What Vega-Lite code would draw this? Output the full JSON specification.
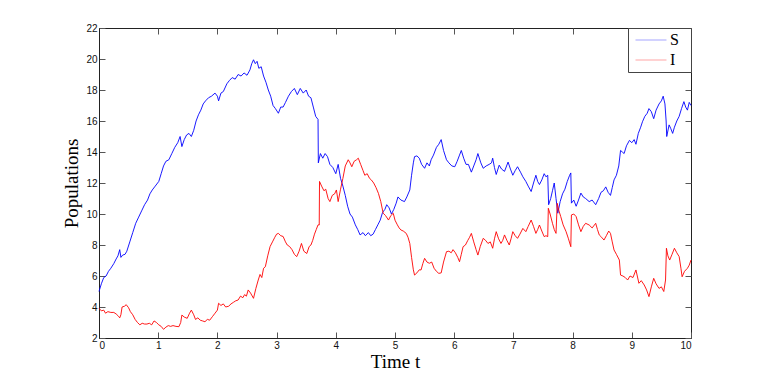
{
"$schema": "https://vega.github.io/schema/vega-lite/v6.json",
"width": 592, "height": 310,
"autosize": {"type": "none"},
"padding": {"left": 99, "top": 28, "right": 72, "bottom": 44},
"background": "white",
"config": {
  "view": {"stroke": "#222", "strokeWidth": 1},
  "axis": {"grid": false, "domainColor": "#222", "tickColor": "#555", "tickSize": -6, "labelPadding": 8, "labelFont": "Liberation Sans", "labelFontSize": 10, "labelColor": "#111", "titleFont": "Liberation Serif", "titleFontSize": 19, "titleFontWeight": "normal", "titleColor": "#000"}
},
"data": {"values": [
{"t":0.00,"v":5.0,"s":"S"},{"t":0.04,"v":5.5,"s":"S"},{"t":0.08,"v":5.9,"s":"S"},{"t":0.12,"v":6.0,"s":"S"},{"t":0.16,"v":6.3,"s":"S"},{"t":0.20,"v":6.5,"s":"S"},{"t":0.25,"v":6.8,"s":"S"},{"t":0.29,"v":7.1,"s":"S"},{"t":0.32,"v":7.3,"s":"S"},{"t":0.35,"v":7.7,"s":"S"},{"t":0.37,"v":7.2,"s":"S"},{"t":0.40,"v":7.35,"s":"S"},{"t":0.44,"v":7.4,"s":"S"},{"t":0.47,"v":7.6,"s":"S"},{"t":0.52,"v":8.2,"s":"S"},{"t":0.57,"v":8.8,"s":"S"},{"t":0.62,"v":9.4,"s":"S"},{"t":0.67,"v":9.8,"s":"S"},{"t":0.72,"v":10.2,"s":"S"},{"t":0.77,"v":10.6,"s":"S"},{"t":0.82,"v":10.9,"s":"S"},{"t":0.86,"v":11.3,"s":"S"},{"t":0.90,"v":11.55,"s":"S"},{"t":0.95,"v":11.8,"s":"S"},{"t":1.01,"v":12.1,"s":"S"},{"t":1.05,"v":12.6,"s":"S"},{"t":1.09,"v":13.1,"s":"S"},{"t":1.13,"v":13.4,"s":"S"},{"t":1.18,"v":13.5,"s":"S"},{"t":1.23,"v":13.9,"s":"S"},{"t":1.28,"v":14.3,"s":"S"},{"t":1.33,"v":14.6,"s":"S"},{"t":1.37,"v":15.0,"s":"S"},{"t":1.40,"v":14.35,"s":"S"},{"t":1.44,"v":14.8,"s":"S"},{"t":1.48,"v":15.1,"s":"S"},{"t":1.52,"v":15.2,"s":"S"},{"t":1.56,"v":15.0,"s":"S"},{"t":1.60,"v":15.4,"s":"S"},{"t":1.64,"v":16.0,"s":"S"},{"t":1.68,"v":16.4,"s":"S"},{"t":1.72,"v":16.7,"s":"S"},{"t":1.76,"v":17.1,"s":"S"},{"t":1.80,"v":17.3,"s":"S"},{"t":1.85,"v":17.5,"s":"S"},{"t":1.90,"v":17.6,"s":"S"},{"t":1.96,"v":17.8,"s":"S"},{"t":2.00,"v":17.6,"s":"S"},{"t":2.02,"v":17.3,"s":"S"},{"t":2.06,"v":17.8,"s":"S"},{"t":2.10,"v":17.9,"s":"S"},{"t":2.16,"v":18.4,"s":"S"},{"t":2.20,"v":18.6,"s":"S"},{"t":2.25,"v":18.8,"s":"S"},{"t":2.30,"v":18.7,"s":"S"},{"t":2.35,"v":19.0,"s":"S"},{"t":2.40,"v":18.9,"s":"S"},{"t":2.45,"v":19.1,"s":"S"},{"t":2.50,"v":18.95,"s":"S"},{"t":2.55,"v":19.3,"s":"S"},{"t":2.58,"v":19.7,"s":"S"},{"t":2.61,"v":19.95,"s":"S"},{"t":2.64,"v":19.7,"s":"S"},{"t":2.67,"v":19.85,"s":"S"},{"t":2.70,"v":19.4,"s":"S"},{"t":2.74,"v":19.5,"s":"S"},{"t":2.78,"v":18.9,"s":"S"},{"t":2.82,"v":18.5,"s":"S"},{"t":2.86,"v":18.0,"s":"S"},{"t":2.90,"v":17.6,"s":"S"},{"t":2.94,"v":17.0,"s":"S"},{"t":2.98,"v":16.8,"s":"S"},{"t":3.03,"v":16.5,"s":"S"},{"t":3.07,"v":16.9,"s":"S"},{"t":3.11,"v":16.9,"s":"S"},{"t":3.15,"v":17.2,"s":"S"},{"t":3.20,"v":17.6,"s":"S"},{"t":3.25,"v":17.9,"s":"S"},{"t":3.30,"v":18.1,"s":"S"},{"t":3.35,"v":17.7,"s":"S"},{"t":3.40,"v":18.1,"s":"S"},{"t":3.45,"v":17.8,"s":"S"},{"t":3.50,"v":18.0,"s":"S"},{"t":3.54,"v":17.6,"s":"S"},{"t":3.58,"v":17.5,"s":"S"},{"t":3.62,"v":16.9,"s":"S"},{"t":3.66,"v":16.3,"s":"S"},{"t":3.70,"v":16.1,"s":"S"},{"t":3.705,"v":13.3,"s":"S"},{"t":3.74,"v":13.9,"s":"S"},{"t":3.78,"v":13.6,"s":"S"},{"t":3.82,"v":13.9,"s":"S"},{"t":3.86,"v":13.7,"s":"S"},{"t":3.90,"v":13.2,"s":"S"},{"t":3.95,"v":13.0,"s":"S"},{"t":4.00,"v":12.6,"s":"S"},{"t":4.04,"v":13.2,"s":"S"},{"t":4.08,"v":12.3,"s":"S"},{"t":4.12,"v":11.8,"s":"S"},{"t":4.16,"v":11.2,"s":"S"},{"t":4.20,"v":10.5,"s":"S"},{"t":4.24,"v":10.0,"s":"S"},{"t":4.28,"v":9.8,"s":"S"},{"t":4.33,"v":9.3,"s":"S"},{"t":4.37,"v":9.0,"s":"S"},{"t":4.41,"v":8.65,"s":"S"},{"t":4.46,"v":8.8,"s":"S"},{"t":4.50,"v":8.6,"s":"S"},{"t":4.55,"v":8.8,"s":"S"},{"t":4.59,"v":8.6,"s":"S"},{"t":4.63,"v":8.7,"s":"S"},{"t":4.67,"v":9.0,"s":"S"},{"t":4.71,"v":9.3,"s":"S"},{"t":4.75,"v":9.6,"s":"S"},{"t":4.79,"v":10.1,"s":"S"},{"t":4.83,"v":10.3,"s":"S"},{"t":4.86,"v":10.6,"s":"S"},{"t":4.90,"v":10.4,"s":"S"},{"t":4.94,"v":10.0,"s":"S"},{"t":4.98,"v":10.3,"s":"S"},{"t":5.02,"v":10.7,"s":"S"},{"t":5.05,"v":11.1,"s":"S"},{"t":5.10,"v":10.9,"s":"S"},{"t":5.16,"v":10.8,"s":"S"},{"t":5.20,"v":11.1,"s":"S"},{"t":5.25,"v":11.55,"s":"S"},{"t":5.28,"v":12.5,"s":"S"},{"t":5.31,"v":13.3,"s":"S"},{"t":5.33,"v":13.7,"s":"S"},{"t":5.37,"v":13.75,"s":"S"},{"t":5.41,"v":13.6,"s":"S"},{"t":5.45,"v":13.2,"s":"S"},{"t":5.50,"v":12.95,"s":"S"},{"t":5.54,"v":13.3,"s":"S"},{"t":5.58,"v":13.1,"s":"S"},{"t":5.61,"v":13.5,"s":"S"},{"t":5.65,"v":13.8,"s":"S"},{"t":5.70,"v":14.3,"s":"S"},{"t":5.74,"v":14.5,"s":"S"},{"t":5.78,"v":14.8,"s":"S"},{"t":5.82,"v":14.1,"s":"S"},{"t":5.87,"v":13.5,"s":"S"},{"t":5.91,"v":13.3,"s":"S"},{"t":5.96,"v":13.1,"s":"S"},{"t":6.01,"v":13.05,"s":"S"},{"t":6.05,"v":13.4,"s":"S"},{"t":6.09,"v":13.8,"s":"S"},{"t":6.12,"v":14.1,"s":"S"},{"t":6.16,"v":13.6,"s":"S"},{"t":6.20,"v":13.2,"s":"S"},{"t":6.24,"v":13.2,"s":"S"},{"t":6.29,"v":12.7,"s":"S"},{"t":6.33,"v":13.1,"s":"S"},{"t":6.37,"v":13.5,"s":"S"},{"t":6.40,"v":13.9,"s":"S"},{"t":6.45,"v":13.3,"s":"S"},{"t":6.49,"v":12.95,"s":"S"},{"t":6.54,"v":13.1,"s":"S"},{"t":6.59,"v":13.2,"s":"S"},{"t":6.63,"v":13.3,"s":"S"},{"t":6.65,"v":13.6,"s":"S"},{"t":6.68,"v":13.0,"s":"S"},{"t":6.71,"v":12.55,"s":"S"},{"t":6.76,"v":13.15,"s":"S"},{"t":6.80,"v":12.9,"s":"S"},{"t":6.85,"v":12.75,"s":"S"},{"t":6.91,"v":13.35,"s":"S"},{"t":6.95,"v":12.9,"s":"S"},{"t":6.99,"v":12.5,"s":"S"},{"t":7.03,"v":12.8,"s":"S"},{"t":7.07,"v":13.05,"s":"S"},{"t":7.12,"v":12.7,"s":"S"},{"t":7.16,"v":12.4,"s":"S"},{"t":7.21,"v":12.1,"s":"S"},{"t":7.25,"v":11.8,"s":"S"},{"t":7.30,"v":11.45,"s":"S"},{"t":7.34,"v":12.0,"s":"S"},{"t":7.38,"v":12.5,"s":"S"},{"t":7.41,"v":12.1,"s":"S"},{"t":7.44,"v":11.9,"s":"S"},{"t":7.48,"v":12.2,"s":"S"},{"t":7.52,"v":12.6,"s":"S"},{"t":7.55,"v":12.4,"s":"S"},{"t":7.58,"v":12.5,"s":"S"},{"t":7.595,"v":10.6,"s":"S"},{"t":7.63,"v":11.0,"s":"S"},{"t":7.66,"v":11.5,"s":"S"},{"t":7.69,"v":12.0,"s":"S"},{"t":7.72,"v":11.0,"s":"S"},{"t":7.75,"v":10.05,"s":"S"},{"t":7.79,"v":10.8,"s":"S"},{"t":7.83,"v":11.3,"s":"S"},{"t":7.87,"v":11.6,"s":"S"},{"t":7.91,"v":12.1,"s":"S"},{"t":7.95,"v":12.5,"s":"S"},{"t":7.97,"v":12.65,"s":"S"},{"t":7.98,"v":10.7,"s":"S"},{"t":8.02,"v":10.9,"s":"S"},{"t":8.06,"v":10.5,"s":"S"},{"t":8.10,"v":10.9,"s":"S"},{"t":8.14,"v":11.35,"s":"S"},{"t":8.18,"v":11.1,"s":"S"},{"t":8.22,"v":11.0,"s":"S"},{"t":8.28,"v":10.8,"s":"S"},{"t":8.33,"v":10.9,"s":"S"},{"t":8.39,"v":10.6,"s":"S"},{"t":8.44,"v":11.0,"s":"S"},{"t":8.48,"v":11.4,"s":"S"},{"t":8.52,"v":11.5,"s":"S"},{"t":8.56,"v":11.75,"s":"S"},{"t":8.60,"v":11.4,"s":"S"},{"t":8.64,"v":11.2,"s":"S"},{"t":8.67,"v":11.7,"s":"S"},{"t":8.70,"v":12.2,"s":"S"},{"t":8.74,"v":12.5,"s":"S"},{"t":8.78,"v":13.1,"s":"S"},{"t":8.81,"v":14.1,"s":"S"},{"t":8.84,"v":14.0,"s":"S"},{"t":8.87,"v":13.9,"s":"S"},{"t":8.91,"v":14.4,"s":"S"},{"t":8.96,"v":14.75,"s":"S"},{"t":9.00,"v":14.6,"s":"S"},{"t":9.04,"v":14.8,"s":"S"},{"t":9.07,"v":14.5,"s":"S"},{"t":9.11,"v":15.2,"s":"S"},{"t":9.15,"v":15.6,"s":"S"},{"t":9.18,"v":15.95,"s":"S"},{"t":9.22,"v":16.3,"s":"S"},{"t":9.26,"v":16.5,"s":"S"},{"t":9.29,"v":16.8,"s":"S"},{"t":9.33,"v":16.6,"s":"S"},{"t":9.37,"v":16.15,"s":"S"},{"t":9.41,"v":16.7,"s":"S"},{"t":9.46,"v":17.1,"s":"S"},{"t":9.50,"v":17.3,"s":"S"},{"t":9.53,"v":17.6,"s":"S"},{"t":9.56,"v":17.1,"s":"S"},{"t":9.58,"v":16.0,"s":"S"},{"t":9.59,"v":15.0,"s":"S"},{"t":9.63,"v":15.75,"s":"S"},{"t":9.66,"v":15.5,"s":"S"},{"t":9.69,"v":15.2,"s":"S"},{"t":9.72,"v":15.6,"s":"S"},{"t":9.76,"v":16.0,"s":"S"},{"t":9.80,"v":16.3,"s":"S"},{"t":9.84,"v":16.8,"s":"S"},{"t":9.88,"v":17.25,"s":"S"},{"t":9.91,"v":16.9,"s":"S"},{"t":9.94,"v":16.7,"s":"S"},{"t":9.97,"v":17.2,"s":"S"},{"t":10.00,"v":17.0,"s":"S"},
{"t":0.00,"v":3.92,"s":"I"},{"t":0.04,"v":3.75,"s":"I"},{"t":0.08,"v":3.8,"s":"I"},{"t":0.11,"v":3.6,"s":"I"},{"t":0.15,"v":3.7,"s":"I"},{"t":0.20,"v":3.65,"s":"I"},{"t":0.25,"v":3.65,"s":"I"},{"t":0.29,"v":3.55,"s":"I"},{"t":0.33,"v":3.4,"s":"I"},{"t":0.35,"v":3.3,"s":"I"},{"t":0.37,"v":3.5,"s":"I"},{"t":0.39,"v":4.0,"s":"I"},{"t":0.43,"v":4.05,"s":"I"},{"t":0.46,"v":4.15,"s":"I"},{"t":0.50,"v":3.95,"s":"I"},{"t":0.53,"v":3.7,"s":"I"},{"t":0.57,"v":3.5,"s":"I"},{"t":0.61,"v":3.2,"s":"I"},{"t":0.65,"v":3.0,"s":"I"},{"t":0.69,"v":2.85,"s":"I"},{"t":0.73,"v":2.95,"s":"I"},{"t":0.77,"v":2.9,"s":"I"},{"t":0.81,"v":2.9,"s":"I"},{"t":0.85,"v":2.95,"s":"I"},{"t":0.89,"v":2.85,"s":"I"},{"t":0.93,"v":3.1,"s":"I"},{"t":0.97,"v":3.0,"s":"I"},{"t":1.01,"v":2.85,"s":"I"},{"t":1.05,"v":2.75,"s":"I"},{"t":1.09,"v":2.56,"s":"I"},{"t":1.13,"v":2.7,"s":"I"},{"t":1.17,"v":2.8,"s":"I"},{"t":1.21,"v":2.75,"s":"I"},{"t":1.25,"v":2.8,"s":"I"},{"t":1.30,"v":2.75,"s":"I"},{"t":1.35,"v":2.73,"s":"I"},{"t":1.38,"v":3.0,"s":"I"},{"t":1.40,"v":3.48,"s":"I"},{"t":1.44,"v":3.35,"s":"I"},{"t":1.49,"v":3.27,"s":"I"},{"t":1.53,"v":3.6,"s":"I"},{"t":1.56,"v":3.8,"s":"I"},{"t":1.60,"v":3.5,"s":"I"},{"t":1.63,"v":3.2,"s":"I"},{"t":1.67,"v":3.3,"s":"I"},{"t":1.71,"v":3.15,"s":"I"},{"t":1.75,"v":3.1,"s":"I"},{"t":1.79,"v":3.05,"s":"I"},{"t":1.83,"v":3.2,"s":"I"},{"t":1.87,"v":3.15,"s":"I"},{"t":1.92,"v":3.4,"s":"I"},{"t":1.96,"v":3.6,"s":"I"},{"t":2.00,"v":3.8,"s":"I"},{"t":2.02,"v":4.24,"s":"I"},{"t":2.06,"v":4.1,"s":"I"},{"t":2.10,"v":4.2,"s":"I"},{"t":2.14,"v":4.0,"s":"I"},{"t":2.19,"v":4.05,"s":"I"},{"t":2.23,"v":4.2,"s":"I"},{"t":2.27,"v":4.3,"s":"I"},{"t":2.31,"v":4.4,"s":"I"},{"t":2.35,"v":4.45,"s":"I"},{"t":2.39,"v":4.7,"s":"I"},{"t":2.43,"v":4.6,"s":"I"},{"t":2.46,"v":4.8,"s":"I"},{"t":2.49,"v":4.7,"s":"I"},{"t":2.52,"v":5.1,"s":"I"},{"t":2.56,"v":4.9,"s":"I"},{"t":2.61,"v":4.56,"s":"I"},{"t":2.65,"v":5.2,"s":"I"},{"t":2.69,"v":5.74,"s":"I"},{"t":2.72,"v":6.1,"s":"I"},{"t":2.75,"v":5.9,"s":"I"},{"t":2.78,"v":6.5,"s":"I"},{"t":2.81,"v":6.6,"s":"I"},{"t":2.85,"v":7.3,"s":"I"},{"t":2.89,"v":7.9,"s":"I"},{"t":2.93,"v":8.2,"s":"I"},{"t":2.97,"v":8.5,"s":"I"},{"t":3.00,"v":8.7,"s":"I"},{"t":3.03,"v":8.75,"s":"I"},{"t":3.07,"v":8.6,"s":"I"},{"t":3.11,"v":8.55,"s":"I"},{"t":3.15,"v":8.2,"s":"I"},{"t":3.18,"v":8.0,"s":"I"},{"t":3.22,"v":7.9,"s":"I"},{"t":3.26,"v":7.7,"s":"I"},{"t":3.30,"v":7.4,"s":"I"},{"t":3.34,"v":7.25,"s":"I"},{"t":3.38,"v":7.6,"s":"I"},{"t":3.42,"v":8.1,"s":"I"},{"t":3.46,"v":7.6,"s":"I"},{"t":3.51,"v":7.45,"s":"I"},{"t":3.55,"v":7.9,"s":"I"},{"t":3.58,"v":8.0,"s":"I"},{"t":3.61,"v":8.3,"s":"I"},{"t":3.64,"v":8.7,"s":"I"},{"t":3.67,"v":9.0,"s":"I"},{"t":3.70,"v":9.3,"s":"I"},{"t":3.72,"v":9.29,"s":"I"},{"t":3.725,"v":12.1,"s":"I"},{"t":3.76,"v":11.8,"s":"I"},{"t":3.80,"v":11.5,"s":"I"},{"t":3.83,"v":11.6,"s":"I"},{"t":3.87,"v":11.0,"s":"I"},{"t":3.90,"v":10.8,"s":"I"},{"t":3.94,"v":11.2,"s":"I"},{"t":3.98,"v":11.3,"s":"I"},{"t":4.01,"v":11.55,"s":"I"},{"t":4.04,"v":10.8,"s":"I"},{"t":4.08,"v":11.6,"s":"I"},{"t":4.12,"v":12.3,"s":"I"},{"t":4.16,"v":13.1,"s":"I"},{"t":4.21,"v":13.5,"s":"I"},{"t":4.24,"v":13.3,"s":"I"},{"t":4.27,"v":13.05,"s":"I"},{"t":4.31,"v":13.4,"s":"I"},{"t":4.35,"v":13.5,"s":"I"},{"t":4.38,"v":13.6,"s":"I"},{"t":4.42,"v":13.2,"s":"I"},{"t":4.46,"v":12.8,"s":"I"},{"t":4.49,"v":12.5,"s":"I"},{"t":4.53,"v":12.6,"s":"I"},{"t":4.57,"v":12.3,"s":"I"},{"t":4.60,"v":12.2,"s":"I"},{"t":4.64,"v":12.0,"s":"I"},{"t":4.68,"v":11.7,"s":"I"},{"t":4.72,"v":11.33,"s":"I"},{"t":4.76,"v":10.8,"s":"I"},{"t":4.80,"v":10.05,"s":"I"},{"t":4.84,"v":9.9,"s":"I"},{"t":4.89,"v":9.61,"s":"I"},{"t":4.93,"v":9.9,"s":"I"},{"t":4.97,"v":10.05,"s":"I"},{"t":5.00,"v":9.6,"s":"I"},{"t":5.04,"v":9.3,"s":"I"},{"t":5.07,"v":9.1,"s":"I"},{"t":5.10,"v":8.97,"s":"I"},{"t":5.14,"v":8.9,"s":"I"},{"t":5.19,"v":8.75,"s":"I"},{"t":5.22,"v":8.5,"s":"I"},{"t":5.25,"v":8.1,"s":"I"},{"t":5.28,"v":7.2,"s":"I"},{"t":5.31,"v":6.4,"s":"I"},{"t":5.33,"v":6.06,"s":"I"},{"t":5.37,"v":6.2,"s":"I"},{"t":5.41,"v":6.4,"s":"I"},{"t":5.44,"v":6.39,"s":"I"},{"t":5.47,"v":6.8,"s":"I"},{"t":5.50,"v":7.14,"s":"I"},{"t":5.54,"v":6.9,"s":"I"},{"t":5.58,"v":6.82,"s":"I"},{"t":5.62,"v":6.9,"s":"I"},{"t":5.66,"v":6.5,"s":"I"},{"t":5.70,"v":6.3,"s":"I"},{"t":5.74,"v":6.17,"s":"I"},{"t":5.78,"v":6.2,"s":"I"},{"t":5.82,"v":6.9,"s":"I"},{"t":5.87,"v":7.57,"s":"I"},{"t":5.91,"v":7.6,"s":"I"},{"t":5.95,"v":7.5,"s":"I"},{"t":5.98,"v":7.7,"s":"I"},{"t":6.02,"v":7.5,"s":"I"},{"t":6.06,"v":7.2,"s":"I"},{"t":6.09,"v":6.92,"s":"I"},{"t":6.12,"v":7.4,"s":"I"},{"t":6.15,"v":7.89,"s":"I"},{"t":6.19,"v":8.0,"s":"I"},{"t":6.23,"v":8.3,"s":"I"},{"t":6.26,"v":8.5,"s":"I"},{"t":6.29,"v":8.75,"s":"I"},{"t":6.33,"v":8.2,"s":"I"},{"t":6.37,"v":7.7,"s":"I"},{"t":6.40,"v":7.35,"s":"I"},{"t":6.44,"v":7.9,"s":"I"},{"t":6.49,"v":8.43,"s":"I"},{"t":6.53,"v":8.3,"s":"I"},{"t":6.57,"v":8.1,"s":"I"},{"t":6.61,"v":8.2,"s":"I"},{"t":6.65,"v":7.79,"s":"I"},{"t":6.68,"v":8.4,"s":"I"},{"t":6.71,"v":8.86,"s":"I"},{"t":6.75,"v":8.4,"s":"I"},{"t":6.79,"v":8.1,"s":"I"},{"t":6.82,"v":8.3,"s":"I"},{"t":6.85,"v":8.65,"s":"I"},{"t":6.89,"v":8.3,"s":"I"},{"t":6.93,"v":8.0,"s":"I"},{"t":6.96,"v":8.4,"s":"I"},{"t":6.99,"v":8.86,"s":"I"},{"t":7.03,"v":8.6,"s":"I"},{"t":7.07,"v":8.43,"s":"I"},{"t":7.11,"v":8.7,"s":"I"},{"t":7.16,"v":9.07,"s":"I"},{"t":7.21,"v":8.86,"s":"I"},{"t":7.25,"v":9.2,"s":"I"},{"t":7.30,"v":9.61,"s":"I"},{"t":7.34,"v":9.2,"s":"I"},{"t":7.38,"v":8.75,"s":"I"},{"t":7.41,"v":9.0,"s":"I"},{"t":7.44,"v":9.29,"s":"I"},{"t":7.48,"v":8.9,"s":"I"},{"t":7.52,"v":8.54,"s":"I"},{"t":7.55,"v":8.6,"s":"I"},{"t":7.58,"v":8.54,"s":"I"},{"t":7.59,"v":10.37,"s":"I"},{"t":7.62,"v":10.0,"s":"I"},{"t":7.66,"v":9.4,"s":"I"},{"t":7.69,"v":9.0,"s":"I"},{"t":7.72,"v":8.75,"s":"I"},{"t":7.74,"v":10.69,"s":"I"},{"t":7.77,"v":10.2,"s":"I"},{"t":7.80,"v":9.83,"s":"I"},{"t":7.84,"v":9.3,"s":"I"},{"t":7.89,"v":8.86,"s":"I"},{"t":7.93,"v":8.4,"s":"I"},{"t":7.97,"v":7.89,"s":"I"},{"t":7.98,"v":9.94,"s":"I"},{"t":8.02,"v":10.0,"s":"I"},{"t":8.06,"v":9.83,"s":"I"},{"t":8.10,"v":9.3,"s":"I"},{"t":8.14,"v":8.86,"s":"I"},{"t":8.18,"v":9.2,"s":"I"},{"t":8.22,"v":9.4,"s":"I"},{"t":8.28,"v":9.29,"s":"I"},{"t":8.33,"v":9.1,"s":"I"},{"t":8.39,"v":9.4,"s":"I"},{"t":8.42,"v":9.0,"s":"I"},{"t":8.45,"v":8.65,"s":"I"},{"t":8.49,"v":8.5,"s":"I"},{"t":8.53,"v":8.32,"s":"I"},{"t":8.57,"v":8.6,"s":"I"},{"t":8.61,"v":8.9,"s":"I"},{"t":8.64,"v":8.75,"s":"I"},{"t":8.67,"v":8.2,"s":"I"},{"t":8.70,"v":7.68,"s":"I"},{"t":8.74,"v":7.4,"s":"I"},{"t":8.79,"v":7.03,"s":"I"},{"t":8.81,"v":6.06,"s":"I"},{"t":8.85,"v":6.0,"s":"I"},{"t":8.89,"v":5.9,"s":"I"},{"t":8.93,"v":5.74,"s":"I"},{"t":8.97,"v":6.0,"s":"I"},{"t":9.02,"v":5.9,"s":"I"},{"t":9.07,"v":6.39,"s":"I"},{"t":9.12,"v":5.53,"s":"I"},{"t":9.16,"v":5.7,"s":"I"},{"t":9.21,"v":5.42,"s":"I"},{"t":9.25,"v":5.1,"s":"I"},{"t":9.29,"v":4.67,"s":"I"},{"t":9.33,"v":5.3,"s":"I"},{"t":9.37,"v":5.85,"s":"I"},{"t":9.41,"v":5.5,"s":"I"},{"t":9.46,"v":5.2,"s":"I"},{"t":9.50,"v":5.3,"s":"I"},{"t":9.54,"v":5.0,"s":"I"},{"t":9.57,"v":5.74,"s":"I"},{"t":9.585,"v":7.79,"s":"I"},{"t":9.61,"v":7.3,"s":"I"},{"t":9.64,"v":7.03,"s":"I"},{"t":9.68,"v":7.4,"s":"I"},{"t":9.72,"v":7.79,"s":"I"},{"t":9.76,"v":7.5,"s":"I"},{"t":9.80,"v":7.25,"s":"I"},{"t":9.83,"v":6.5,"s":"I"},{"t":9.85,"v":5.95,"s":"I"},{"t":9.89,"v":6.3,"s":"I"},{"t":9.94,"v":6.5,"s":"I"},{"t":9.97,"v":6.7,"s":"I"},{"t":10.00,"v":7.03,"s":"I"}
]},
"layer": [
  {
    "mark": {"type": "line", "strokeWidth": 0.9},
    "encoding": {
      "x": {"field": "t", "type": "quantitative", "scale": {"domain": [0, 10], "nice": false}, "axis": {"orient": "bottom", "values": [0,1,2,3,4,5,6,7,8,9,10], "title": "Time t", "titlePadding": 2}},
      "y": {"field": "v", "type": "quantitative", "scale": {"domain": [2, 22], "nice": false}, "axis": {"orient": "left", "values": [2,4,6,8,10,12,14,16,18,20,22], "title": "Populations", "titlePadding": 4}},
      "color": {"field": "s", "type": "nominal", "sort": ["S", "I"], "scale": {"domain": ["S", "I"], "range": ["#0000ff", "#ff0000"]},
        "legend": {"orient": "top-right", "offset": 0, "title": ".", "titleOrient": "right", "titleFontSize": 2, "titleOpacity": 0, "titlePadding": 7, "padding": 4, "strokeColor": "#444", "fillColor": "white", "symbolType": "M-0.6,0H3.53", "symbolSize": 225, "symbolStrokeWidth": 1, "symbolOpacity": 0.35, "labelFont": "Liberation Serif", "labelFontSize": 16, "labelColor": "#000", "rowPadding": 4, "labelOffset": 22}}
    }
  },
  {
    "mark": {"type": "point", "opacity": 0},
    "encoding": {
      "x": {"field": "t", "type": "quantitative", "axis": {"orient": "top", "values": [0,1,2,3,4,5,6,7,8,9,10], "labels": false, "title": null, "domain": false}},
      "y": {"field": "v", "type": "quantitative", "axis": {"orient": "right", "values": [2,4,6,8,10,12,14,16,18,20,22], "labels": false, "title": null, "domain": false}}
    }
  }
],
"resolve": {"axis": {"x": "independent", "y": "independent"}}
}
